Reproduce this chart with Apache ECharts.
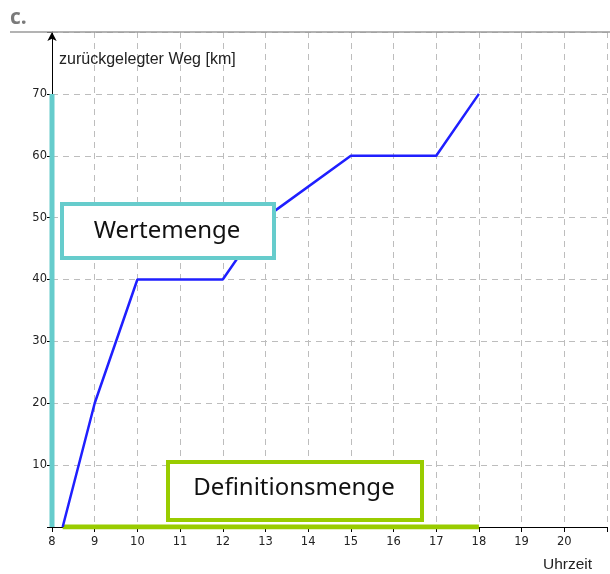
<!DOCTYPE html>
<html>
<head>
<meta charset="utf-8">
<script src="https://cdn.jsdelivr.net/npm/echarts@6/dist/echarts.min.js"></script>
<style>
html,body{margin:0;padding:0;background:#fff;}
#chart{width:610px;height:574px;}
</style>
</head>
<body>
<div id="chart"></div>
<script>
// ---- data ----
var hours = [8.25, 9, 10, 12, 13, 15, 17, 18];
var distance = [0, 20, 40, 40, 50, 60, 60, 70];
var xTickLabels = [8, 9, 10, 11, 12, 13, 14, 15, 16, 17, 18, 19, 20];
var yTickLabels = [10, 20, 30, 40, 50, 60, 70];
var xTitle = 'Uhrzeit';
var yTitle = 'zurückgelegter Weg [km]';
var rangeLabel = 'Wertemenge';
var domainLabel = 'Definitionsmenge';
var panelLabel = 'c.';

var xMin = 8, xMax = 21, yMin = 0, yMax = 80;

var lineData = hours.map(function (h, i) { return [h, distance[i]]; });
var rangeBar = [[xMin, Math.min.apply(null, distance)], [xMin, Math.max.apply(null, distance)]];
var domainBar = [[hours[0], yMin], [hours[hours.length - 1], yMin]];

var chart = echarts.init(document.getElementById('chart'), null, {renderer: 'canvas'});
var gridDash = {color: '#bdbdbd', width: 1, type: [6, 5]};
var tickFont = {fontFamily: 'DejaVu Sans', fontSize: 11.5, color: '#222'};
var option = {
  animation: false,
  backgroundColor: '#fff',
  grid: {left: 52, top: 32, width: 559, height: 495, containLabel: false},
  xAxis: {
    type: 'value', min: xMin, max: xMax, interval: 1,
    name: xTitle, nameLocation: 'end', nameGap: -64,
    nameTextStyle: {fontFamily: 'Liberation Sans', fontSize: 15.5, color: '#222', align: 'left', verticalAlign: 'top', padding: [30, 0, 0, 0]},
    axisLine: {show: true, lineStyle: {color: '#000', width: 1}},
    axisTick: {show: true, length: 5, lineStyle: {color: '#000'}},
    axisLabel: Object.assign({
      margin: 9,
      formatter: function (v) { return xTickLabels.indexOf(v) >= 0 ? String(v) : ''; }
    }, tickFont),
    splitLine: {show: true, lineStyle: gridDash}
  },
  yAxis: {
    type: 'value', min: yMin, max: yMax, interval: 10,
    name: yTitle, nameLocation: 'end', nameGap: -28,
    nameTextStyle: {fontFamily: 'Liberation Sans', fontSize: 16, color: '#222', align: 'left', verticalAlign: 'middle', padding: [0, 0, 0, 7]},
    axisLine: {show: true, symbol: ['none', 'arrow'], symbolSize: [7, 9], symbolOffset: [0, 0], lineStyle: {color: '#000', width: 1}},
    axisTick: {show: true, length: 5, lineStyle: {color: '#000'}},
    axisLabel: Object.assign({
      margin: 5,
      formatter: function (v) { return yTickLabels.indexOf(v) >= 0 ? String(v) : ''; }
    }, tickFont),
    splitLine: {show: true, lineStyle: gridDash}
  },
  series: [
    {
      type: 'line', data: rangeBar, symbol: 'none', silent: true, z: 3,
      lineStyle: {color: '#66CCCC', width: 5, cap: 'butt'}
    },
    {
      type: 'line', data: domainBar, symbol: 'none', silent: true, z: 3,
      lineStyle: {color: '#99CC00', width: 5, cap: 'butt'}
    },
    {
      type: 'line', data: lineData, symbol: 'none', z: 4,
      lineStyle: {color: '#1f1fff', width: 2.5}
    }
  ],
  graphic: [
    {type: 'text', left: 10, top: 8, z: 10, style: {text: panelLabel, font: 'bold 21px "Open Sans"', fill: '#7a7a7a'}},
    {type: 'line', z: 10, shape: {x1: 10, y1: 32, x2: 610, y2: 32}, style: {stroke: '#9a9a9a', lineWidth: 1.5}},
    {type: 'rect', z: 20, shape: {x: 62, y: 204, width: 212, height: 54}, style: {fill: '#fff', stroke: '#66CCCC', lineWidth: 4}},
    {type: 'text', z: 21, x: 167, y: 231, style: {text: rangeLabel, font: '24px "Noto Sans"', fill: '#111', align: 'center', verticalAlign: 'middle'}},
    {type: 'rect', z: 20, shape: {x: 168, y: 462, width: 254, height: 58}, style: {fill: '#fff', stroke: '#99CC00', lineWidth: 4}},
    {type: 'text', z: 21, x: 294, y: 488, style: {text: domainLabel, font: '24px "Noto Sans"', fill: '#111', align: 'center', verticalAlign: 'middle'}}
  ]
};
chart.setOption(option);
</script>
</body>
</html>
